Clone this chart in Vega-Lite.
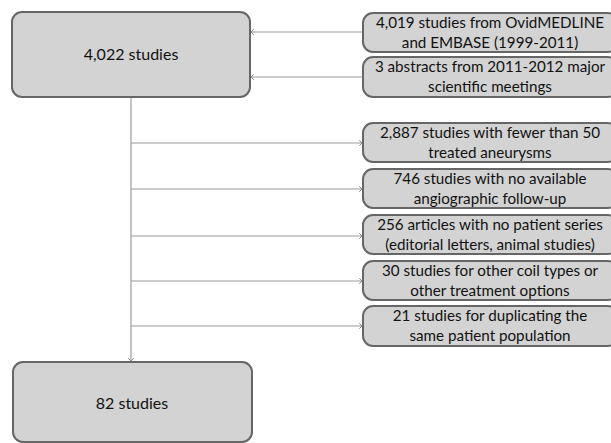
{
  "$schema": "https://vega.github.io/schema/vega-lite/v6.json",
  "width": 611,
  "height": 443,
  "padding": 0,
  "autosize": {"type": "none"},
  "background": "white",
  "config": {"view": {"stroke": null}},
  "datasets": {
    "boxes": [
      {"id": "all", "x": 12, "x2": 250, "y": 12, "y2": 97, "cx": 131, "cy": 55, "label": "4,022 studies"},
      {"id": "s1", "x": 363, "x2": 618, "y": 13, "y2": 52, "cx": 490, "cy": 32.5, "label": "4,019 studies from OvidMEDLINE\nand EMBASE (1999-2011)"},
      {"id": "s2", "x": 363, "x2": 618, "y": 57, "y2": 97, "cx": 490, "cy": 77, "label": "3 abstracts from 2011-2012 major\nscientific meetings"},
      {"id": "e1", "x": 363, "x2": 618, "y": 123, "y2": 162, "cx": 490, "cy": 142.5, "label": "2,887 studies with fewer than 50\ntreated aneurysms"},
      {"id": "e2", "x": 363, "x2": 618, "y": 169, "y2": 208, "cx": 490, "cy": 188.5, "label": "746 studies with no available\nangiographic follow-up"},
      {"id": "e3", "x": 363, "x2": 618, "y": 215, "y2": 254, "cx": 490, "cy": 234.5, "label": "256 articles with no patient series\n(editorial letters, animal studies)"},
      {"id": "e4", "x": 363, "x2": 618, "y": 261, "y2": 300, "cx": 490, "cy": 280.5, "label": "30 studies for other coil types or\nother treatment options"},
      {"id": "e5", "x": 363, "x2": 618, "y": 306, "y2": 346, "cx": 490, "cy": 326, "label": "21 studies for duplicating the\nsame patient population"},
      {"id": "final", "x": 13, "x2": 252, "y": 362, "y2": 442, "cx": 132, "cy": 404, "label": "82 studies"}
    ],
    "edges": [
      {"kind": "h", "x": 363, "y": 32, "x2": 251, "y2": 32, "dir": "left"},
      {"kind": "h", "x": 363, "y": 77, "x2": 251, "y2": 77, "dir": "left"},
      {"kind": "v", "x": 131, "y": 97, "x2": 131, "y2": 361, "dir": "down"},
      {"kind": "h", "x": 131, "y": 143, "x2": 362, "y2": 143, "dir": "right"},
      {"kind": "h", "x": 131, "y": 189, "x2": 362, "y2": 189, "dir": "right"},
      {"kind": "h", "x": 131, "y": 236, "x2": 362, "y2": 236, "dir": "right"},
      {"kind": "h", "x": 131, "y": 281, "x2": 362, "y2": 281, "dir": "right"},
      {"kind": "h", "x": 131, "y": 326, "x2": 362, "y2": 326, "dir": "right"}
    ]
  },
  "layer": [
    {
      "data": {"name": "edges"},
      "transform": [{"filter": "datum.kind === 'v'"}],
      "mark": {"type": "rule", "stroke": "#c4c4c4", "strokeWidth": 2},
      "encoding": {
        "x": {"field": "x", "type": "quantitative", "scale": {"domain": [0, 611], "nice": false, "zero": false}, "axis": null},
        "y": {"field": "y", "type": "quantitative", "scale": {"domain": [0, 443], "nice": false, "zero": false, "reverse": true}, "axis": null},
        "x2": {"field": "x2"},
        "y2": {"field": "y2"}
      }
    },
    {
      "data": {"name": "edges"},
      "transform": [{"filter": "datum.kind === 'h'"}],
      "mark": {"type": "rule", "stroke": "#9a9a9a", "strokeWidth": 1.2},
      "encoding": {
        "x": {"field": "x", "type": "quantitative", "axis": null},
        "y": {"field": "y", "type": "quantitative", "axis": null},
        "x2": {"field": "x2"},
        "y2": {"field": "y2"}
      }
    },
    {
      "data": {"name": "edges"},
      "mark": {"type": "point", "filled": false, "stroke": "#8a8a8a", "strokeWidth": 1, "size": 30, "opacity": 1},
      "encoding": {
        "x": {"field": "x2", "type": "quantitative", "axis": null},
        "y": {"field": "y2", "type": "quantitative", "axis": null},
        "shape": {
          "field": "dir",
          "type": "nominal",
          "legend": null,
          "scale": {
            "domain": ["left", "right", "down"],
            "range": ["M1,-1L0,0L1,1", "M-1,-1L0,0L-1,1", "M-1,-1L0,0L1,-1"]
          }
        }
      }
    },
    {
      "data": {"name": "boxes"},
      "mark": {"type": "rect", "fill": "#d3d3d3", "stroke": "#666666", "strokeWidth": 2, "cornerRadius": 10, "clip": true},
      "encoding": {
        "x": {"field": "x", "type": "quantitative", "axis": null},
        "x2": {"field": "x2"},
        "y": {"field": "y", "type": "quantitative", "axis": null},
        "y2": {"field": "y2"}
      }
    },
    {
      "data": {"name": "boxes"},
      "transform": [{"filter": "indexof(datum.label, '\\n') < 0"}],
      "mark": {"type": "text", "font": "Lato", "fontSize": 16, "align": "center", "baseline": "middle", "color": "#111111"},
      "encoding": {
        "x": {"field": "cx", "type": "quantitative", "axis": null},
        "y": {"field": "cy", "type": "quantitative", "axis": null},
        "text": {"field": "label", "type": "nominal"}
      }
    },
    {
      "data": {"name": "boxes"},
      "transform": [{"filter": "indexof(datum.label, '\\n') >= 0"}],
      "mark": {"type": "text", "font": "Lato", "fontSize": 15.2, "lineBreak": "\n", "lineHeight": 20, "dy": -10, "align": "center", "baseline": "middle", "color": "#111111"},
      "encoding": {
        "x": {"field": "cx", "type": "quantitative", "axis": null},
        "y": {"field": "cy", "type": "quantitative", "axis": null},
        "text": {"field": "label", "type": "nominal"}
      }
    }
  ]
}
